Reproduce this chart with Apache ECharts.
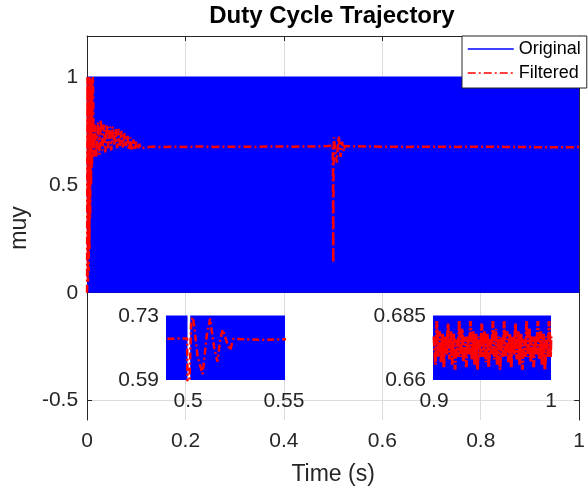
<!DOCTYPE html>
<html>
<head>
<meta charset="utf-8">
<script src="https://cdn.jsdelivr.net/npm/echarts@6/dist/echarts.min.js"></script>
<style>
html,body{margin:0;padding:0;background:#fff;}
#c{width:588px;height:493px;}
</style>
</head>
<body>
<div id="c"></div>
<script>
// ---- data ----
const titleText = 'Duty Cycle Trajectory';
const xName = 'Time (s)';
const yName = 'muy';
const legendNames = ['Original', 'Filtered'];

const xTicks = [0, 0.2, 0.4, 0.6, 0.8, 1];
const yTicks = [-0.5, 0, 0.5, 1];
const zoom1XTicks = [0.5, 0.55];
const zoom1YTicks = [0.59, 0.73];
const zoom2XTicks = [0.9, 1];
const zoom2YTicks = [0.66, 0.685];

// Original PWM signal: envelope of the switching band (0..1), with a short gap near t=0.5
const originalT = [0, 0.4997, 0.5004, 0.5011, 1];
const originalV = [1, 1, null, 1, 1];

// Filtered duty cycle
const filteredT = [0, 0.0008, 0.0016, 0.0024, 0.0032, 0.004, 0.0048, 0.0056, 0.0064, 0.0072,
  0.008, 0.009, 0.010, 0.011, 0.012, 0.0135, 0.016, 0.019, 0.022, 0.025,
  0.028, 0.031, 0.034, 0.037, 0.040, 0.043, 0.046, 0.049, 0.052, 0.055,
  0.058, 0.061, 0.064, 0.067, 0.070, 0.073, 0.076, 0.079, 0.082, 0.085,
  0.088, 0.091, 0.094, 0.097, 0.100, 0.103, 0.106, 0.109, 0.112, 0.13,
  0.15, 0.17, 0.2, 0.23, 0.26, 0.3, 0.34, 0.38, 0.42, 0.46,
  0.489, 0.4995, 0.5, 0.5003, 0.5008, 0.5016, 0.5026, 0.505, 0.5076, 0.5098,
  0.5115, 0.5136, 0.5153, 0.5168, 0.5181, 0.52, 0.5219, 0.5236, 0.53, 0.54,
  0.55, 0.6, 0.65, 0.7, 0.75, 0.8, 0.85, 0.9, 0.95, 1.0];
const filteredV = [0, 1.0, 0.05, 1.0, 0.1, 1.0, 0.2, 1.0, 0.35, 0.99,
  0.5, 0.98, 0.58, 0.97, 1.0, 0.63, 0.78, 0.63, 0.79, 0.64,
  0.80, 0.66, 0.78, 0.65, 0.78, 0.67, 0.77, 0.66, 0.77, 0.68,
  0.76, 0.67, 0.76, 0.68, 0.75, 0.67, 0.74, 0.68, 0.73, 0.66,
  0.72, 0.66, 0.71, 0.66, 0.70, 0.665, 0.69, 0.67, 0.676, 0.677,
  0.675, 0.677, 0.676, 0.678, 0.676, 0.677, 0.676, 0.678, 0.677, 0.678,
  0.68, 0.681, 0.68, 0.138, 0.60, 0.72, 0.727, 0.64, 0.603, 0.69,
  0.724, 0.66, 0.63, 0.68, 0.70, 0.675, 0.655, 0.68, 0.679, 0.678,
  0.679, 0.677, 0.676, 0.677, 0.676, 0.677, 0.676, 0.675, 0.674, 0.675];

// Steady-state ripple shown in the second zoom (0.9 .. 1 s)
const rippleT = [0.9, 0.9012, 0.9024, 0.9036, 0.9048, 0.906, 0.9072, 0.9084, 0.9096, 0.9108,
  0.912, 0.9132, 0.9144, 0.9156, 0.9168, 0.918, 0.9192, 0.9204, 0.9216, 0.9228,
  0.924, 0.9252, 0.9264, 0.9276, 0.9288, 0.93, 0.9312, 0.9324, 0.9336, 0.9348,
  0.936, 0.9372, 0.9384, 0.9396, 0.9408, 0.942, 0.9432, 0.9444, 0.9456, 0.9468,
  0.948, 0.9492, 0.9504, 0.9516, 0.9528, 0.954, 0.9552, 0.9564, 0.9576, 0.9588,
  0.96, 0.9612, 0.9624, 0.9636, 0.9648, 0.966, 0.9672, 0.9684, 0.9696, 0.9708,
  0.972, 0.9732, 0.9744, 0.9756, 0.9768, 0.978, 0.9792, 0.9804, 0.9816, 0.9828,
  0.984, 0.9852, 0.9864, 0.9876, 0.9888, 0.99, 0.9912, 0.9924, 0.9936, 0.9948,
  0.996, 0.9972, 0.9984, 0.9996, 1.0];
const rippleV = [0.677, 0.666,
  0.683, 0.669, 0.679, 0.667, 0.678, 0.665, 0.677, 0.670,
  0.682, 0.668, 0.679, 0.666, 0.678, 0.664, 0.676, 0.669,
  0.683, 0.669, 0.680, 0.667, 0.677, 0.665, 0.677, 0.670,
  0.683, 0.668, 0.679, 0.666, 0.678, 0.664, 0.677, 0.669,
  0.682, 0.669, 0.679, 0.667, 0.678, 0.665, 0.676, 0.670,
  0.683, 0.668, 0.680, 0.666, 0.677, 0.664, 0.677, 0.669,
  0.683, 0.669, 0.679, 0.667, 0.678, 0.665, 0.677, 0.670,
  0.682, 0.668, 0.679, 0.666, 0.678, 0.664, 0.676, 0.669,
  0.683, 0.669, 0.680, 0.667, 0.677, 0.665, 0.677, 0.670,
  0.683, 0.668, 0.679, 0.666, 0.678, 0.664, 0.677, 0.669,
  0.683, 0.669, 0.677];

// ---- chart ----
const pairs = (t, v) => t.map((x, i) => [x, v[i]]);
const originalData = pairs(originalT, originalV);
const filteredData = pairs(filteredT, filteredV);
const rippleData = pairs(rippleT, rippleV);

const FONT = '"Liberation Sans", Arial, Helvetica, sans-serif';
const AX = '#262626';
const BLUE = '#0000ff';
const RED = '#ff0000';

function insetX(grid, min, max, ticks) {
  return { gridIndex: grid, type: 'value', min: min, max: max,
    axisLine: { show: false }, axisTick: { show: false }, splitLine: { show: false },
    axisLabel: { customValues: ticks, fontSize: 21, color: AX, margin: 11, fontFamily: FONT } };
}
function insetY(grid, min, max, ticks) {
  return { gridIndex: grid, type: 'value', min: min, max: max,
    axisLine: { show: false }, axisTick: { show: false }, splitLine: { show: false },
    axisLabel: { customValues: ticks, fontSize: 21, color: AX, margin: 8, fontFamily: FONT } };
}
function bandSeries(name, xi, yi, connect) {
  return { name: name, type: 'line', xAxisIndex: xi, yAxisIndex: yi, data: originalData,
    symbol: 'none', showSymbol: false, connectNulls: connect, lineStyle: { color: BLUE, width: 1 },
    itemStyle: { color: BLUE }, areaStyle: { color: BLUE, opacity: 1, origin: 'auto' } };
}
function redSeries(name, xi, yi, data, w, dash) {
  return { name: name, type: 'line', xAxisIndex: xi, yAxisIndex: yi, data: data,
    symbol: 'none', showSymbol: false, lineStyle: { color: RED, width: w, type: dash },
    itemStyle: { color: RED } };
}

const chart = echarts.init(document.getElementById('c'), null, { renderer: 'canvas' });
chart.setOption({
  animation: false,
  backgroundColor: '#ffffff',
  textStyle: { fontFamily: FONT },
  title: { text: titleText, left: 332, top: 4, padding: 0, textAlign: 'center',
    textStyle: { fontSize: 24, fontWeight: 'bold', color: '#000', fontFamily: FONT } },
  legend: { data: legendNames, orient: 'vertical', left: 462, top: 36,
    padding: [4, 6, 6, 5], itemGap: 6, itemWidth: 46, itemHeight: 14,
    backgroundColor: '#fff', borderColor: AX, borderWidth: 1, borderRadius: 0,
    itemStyle: { opacity: 0 }, lineStyle: { width: 1.5 },
    textStyle: { fontSize: 18, color: '#000', fontFamily: FONT } },
  grid: [
    { left: 82, right: 5, top: 36, bottom: 73, containLabel: false },
    { left: 167, top: 316, width: 117, height: 64, containLabel: false },
    { left: 434, top: 316, width: 117, height: 64, containLabel: false }
  ],
  xAxis: [
    { gridIndex: 0, type: 'value', min: 0, max: 1, interval: 0.2, position: 'bottom',
      axisLine: { show: true, lineStyle: { color: AX, width: 1 } },
      axisTick: { show: true, inside: true, length: 5, lineStyle: { color: AX } },
      axisLabel: { customValues: xTicks, fontSize: 21, color: AX, margin: 11, fontFamily: FONT },
      splitLine: { show: true, lineStyle: { color: '#dcdcdc', width: 1 } },
      name: xName, nameLocation: 'middle', nameGap: 43,
      nameTextStyle: { fontSize: 23, color: AX, fontFamily: FONT } },
    { gridIndex: 0, type: 'value', min: 0, max: 1, interval: 0.2, position: 'top',
      axisLine: { show: true, onZero: false, lineStyle: { color: AX, width: 1 } },
      axisTick: { show: true, inside: true, length: 5, lineStyle: { color: AX } },
      axisLabel: { show: false }, splitLine: { show: false } },
    insetX(1, 0.489, 0.55, zoom1XTicks),
    insetX(2, 0.9, 1, zoom2XTicks)
  ],
  yAxis: [
    { gridIndex: 0, type: 'value', min: -0.59, max: 1.19, position: 'left',
      axisLine: { show: true, onZero: false, lineStyle: { color: AX, width: 1 } },
      axisTick: { show: true, inside: true, length: 5, customValues: yTicks, lineStyle: { color: AX } },
      axisLabel: { customValues: yTicks, fontSize: 21, color: AX, margin: 9, fontFamily: FONT },
      splitLine: { show: true, lineStyle: { color: '#dcdcdc', width: 1 } },
      name: yName, nameLocation: 'middle', nameGap: 50, nameRotate: 90,
      nameTextStyle: { fontSize: 23, color: AX, fontFamily: FONT } },
    { gridIndex: 0, type: 'value', min: -0.59, max: 1.19, position: 'right',
      axisLine: { show: true, onZero: false, lineStyle: { color: AX, width: 1 } },
      axisTick: { show: true, inside: true, length: 5, customValues: yTicks, lineStyle: { color: AX } },
      axisLabel: { show: false }, splitLine: { show: false } },
    insetY(1, 0.59, 0.73, zoom1YTicks),
    insetY(2, 0.66, 0.685, zoom2YTicks)
  ],
  series: [
    bandSeries('Original', 0, 0, true),
    redSeries('Filtered', 0, 0, filteredData, 2.5, [8, 3, 2, 3]),
    bandSeries('Original zoom 1', 2, 2, false),
    redSeries('Filtered zoom 1', 2, 2, filteredData, 2.5, [7, 3, 2, 3]),
    bandSeries('Original zoom 2', 3, 3, false),
    redSeries('Filtered zoom 2', 3, 3, rippleData, 3, [10, 2, 2, 2])
  ]
});
</script>
</body>
</html>
